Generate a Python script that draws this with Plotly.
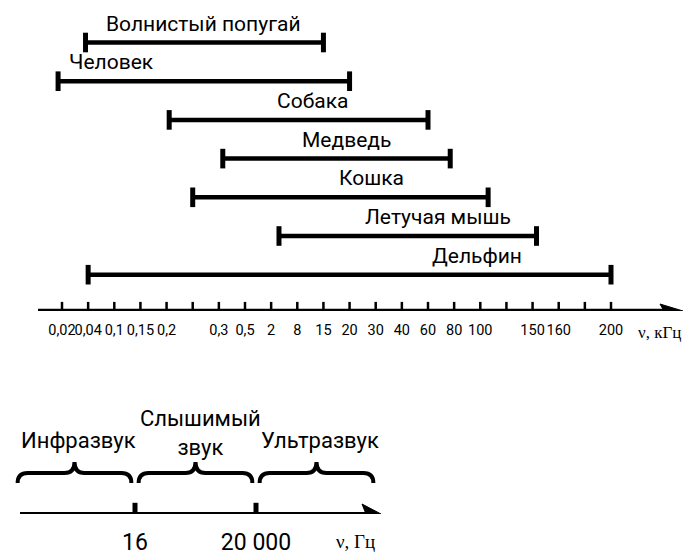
import plotly.graph_objects as go

# ---------------- data ----------------
tick_labels = ["0,02", "0,04", "0,1", "0,15", "0,2", "", "0,3", "0,5", "2", "8", "15",
               "20", "30", "40", "60", "80", "100", "", "150", "160", "", "200"]
animals = ["Волнистый попугай", "Человек", "Собака", "Медведь", "Кошка",
           "Летучая мышь", "Дельфин"]
# hearing ranges, in positions along the (non-uniform) tick scale
range_start = [0.9, -0.15, 4.1, 6.15, 5.0, 8.3, 1.0]
range_end = [10.0, 11.0, 14.0, 14.85, 16.3, 18.15, 21.0]

bands = ["Инфразвук", "Слышимый<br>звук", "Ультразвук"]
band_start = [-1, 0, 1]
band_end = [0, 1, 2]
boundary_labels = ["16", "20 000"]
boundary_pos = [0, 1]

# ---------------- layout constants (page pixels) ----------------
W, H = 691, 556
OFF = 8                      # page body margin around the plot div
FW, FH = W - OFF, H - OFF    # figure size
X0_PX, XN_PX = 62, 611
KX = (XN_PX - X0_PX) / (len(tick_labels) - 1)
ROW0_PX, ROW_PX = 42.5, 38.7
AXIS_PX = 311
label_pos = [5.41, 1.89, 9.6, 10.9, 11.82, 14.38, 15.88]   # label centres on the tick scale


def px2x(px):
    return (px - X0_PX) / KX


row_axis = (AXIS_PX - ROW0_PX) / ROW_PX
row_top = (OFF - ROW0_PX) / ROW_PX

B0_PX, KB = 135, 121
BAXIS_PX, BTOP_PX = 514, 395


def px2b(px):
    return (px - B0_PX) / KB


FONT = "Roboto, DejaVu Sans, sans-serif"
SERIF = "Liberation Serif, DejaVu Serif, serif"

fig = go.Figure()

# hearing range bars
for i, (name, s, e) in enumerate(zip(animals, range_start, range_end)):
    fig.add_trace(go.Scatter(
        x=[s, e], y=[i, i], mode="lines+markers",
        line=dict(color="black", width=4.5),
        marker=dict(symbol="line-ns", size=14, color="black",
                    line=dict(width=5, color="black")),
        hoverinfo="skip", showlegend=False, xaxis="x", yaxis="y"))
    fig.add_annotation(x=label_pos[i], y=i, xref="x", yref="y", text=name,
                       showarrow=False, yshift=19, xanchor="center", yanchor="middle",
                       font=dict(family=FONT, size=21, color="black"))

# top axis ticks
n = len(tick_labels)
fig.add_trace(go.Scatter(
    x=list(range(n)), y=[row_axis] * n, mode="markers",
    marker=dict(symbol="line-ns", size=13, color="black", line=dict(width=2.5, color="black")),
    hoverinfo="skip", showlegend=False, xaxis="x", yaxis="y"))

# top axis line and arrowhead
fig.add_shape(type="line", xref="x", yref="y", x0=px2x(38), x1=px2x(665),
              y0=row_axis, y1=row_axis, line=dict(color="black", width=4.5))
hh = 7 / ROW_PX
bx, tx = px2x(660), px2x(683)
fig.add_shape(type="path", xref="x", yref="y",
              path=f"M {bx},{row_axis - hh} L {tx},{row_axis} L {bx},{row_axis + hh} "
                   f"L {px2x(664)},{row_axis} Z",
              fillcolor="black", line=dict(color="black", width=1))
fig.add_annotation(x=px2x(659), y=row_axis, xref="x", yref="y", text="ν, кГц",
                   showarrow=False, yshift=-21, xanchor="center",
                   font=dict(family=SERIF, size=17, color="black"))

# ---------------- bottom diagram ----------------
fig.add_trace(go.Scatter(
    x=boundary_pos, y=[0] * len(boundary_pos), mode="markers",
    marker=dict(symbol="line-ns", size=16, color="black", line=dict(width=5, color="black")),
    hoverinfo="skip", showlegend=False, xaxis="x2", yaxis="y2"))
fig.add_shape(type="line", xref="x2", yref="y2", x0=px2b(20), x1=px2b(367),
              y0=0, y1=0, line=dict(color="black", width=4))
bbx, btx = px2b(362), px2b(381)
fig.add_shape(type="path", xref="x2", yref="y2",
              path=f"M {bbx},10 L {btx},0 L {bbx},-10 L {px2b(366)},0 Z",
              fillcolor="black", line=dict(color="black", width=1))

w = 10 / KB
pad = 0.03
y_tip, y_mid, y_cusp = 31, 41, 52
for name, a, b in zip(bands, band_start, band_end):
    a2, b2 = a + pad, b - pad
    m = (a + b) / 2
    path = (f"M {a2},{y_tip} Q {a2},{y_mid} {a2 + w},{y_mid} L {m - w},{y_mid} "
            f"Q {m},{y_mid} {m},{y_cusp} Q {m},{y_mid} {m + w},{y_mid} "
            f"L {b2 - w},{y_mid} Q {b2},{y_mid} {b2},{y_tip}")
    fig.add_shape(type="path", xref="x2", yref="y2", path=path,
                  line=dict(color="black", width=4))
    two = "<br>" in name
    fig.add_annotation(x=m + (0.04 if two else 0.03), y=81 if two else 74,
                       xref="x2", yref="y2", text=name, showarrow=False,
                       xanchor="center", yanchor="middle",
                       font=dict(family=FONT, size=22, color="black"))

fig.add_annotation(x=px2b(355), y=0, xref="x2", yref="y2", text="ν, Гц",
                   showarrow=False, yshift=-27, font=dict(family=SERIF, size=19, color="black"))

fig.update_layout(
    width=FW, height=FH, margin=dict(l=0, r=0, t=0, b=0),
    paper_bgcolor="white", plot_bgcolor="white", showlegend=False,
    xaxis=dict(domain=[0, 1], range=[px2x(OFF), px2x(W)], tickvals=list(range(n)),
               ticktext=tick_labels, ticks="", showgrid=False, zeroline=False,
               showline=False, anchor="y", ticklabelstandoff=8, automargin=False,
               tickangle=0, tickfont=dict(family=FONT, size=14.5, color="black")),
    yaxis=dict(domain=[(H - AXIS_PX) / FH, 1], range=[row_axis, row_top],
               visible=False, anchor="x"),
    xaxis2=dict(domain=[0, 1], range=[px2b(OFF), px2b(W)], tickvals=boundary_pos,
                ticktext=boundary_labels, ticks="", showgrid=False, zeroline=False,
                showline=False, anchor="y2", ticklabelstandoff=12, automargin=False,
                tickangle=0, tickfont=dict(family=FONT, size=23, color="black")),
    yaxis2=dict(domain=[(H - BAXIS_PX) / FH, (H - BTOP_PX) / FH],
                range=[0, BAXIS_PX - BTOP_PX], visible=False, anchor="x2"),
)

fig.write_html("out.html")
